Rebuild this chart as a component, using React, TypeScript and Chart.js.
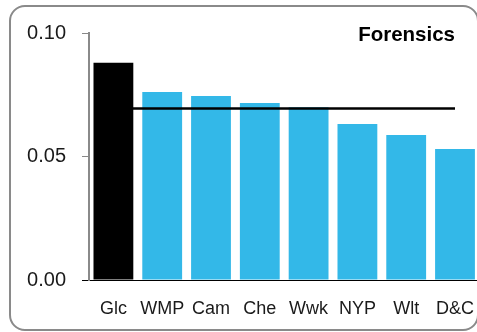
import React, { useEffect, useRef } from "react";
import { Chart, registerables } from "chart.js";

Chart.register(...registerables);

const categories = ["Glc", "WMP", "Cam", "Che", "Wwk", "NYP", "Wlt", "D&C"];
const values = [0.088, 0.0761, 0.0745, 0.0717, 0.0699, 0.0632, 0.0587, 0.053];
const averageValue = 0.0694;
const averageLine = categories.map(() => averageValue);
const yTicks = [0, 0.05, 0.1];
const title = "Forensics";

const BLUE = "#33b8e8";
const FONT = "'Liberation Sans', Arial, sans-serif";

export default function App() {
  const ref = useRef<HTMLCanvasElement | null>(null);

  useEffect(() => {
    if (!ref.current) return;
    const chart = new Chart(ref.current, {
      type: "bar",
      data: {
        labels: categories,
        datasets: [
          {
            type: "line",
            data: averageLine,
            borderColor: "#000",
            borderWidth: 2.5,
            pointRadius: 0,
            order: 0,
          },
          {
            type: "bar",
            data: values,
            backgroundColor: values.map((_, i) => (i === 0 ? "#000" : BLUE)),
            barPercentage: 0.816,
            categoryPercentage: 1,
            order: 1,
          },
        ],
      },
      options: {
        responsive: false,
        animation: false,
        devicePixelRatio: 1,
        layout: { padding: { top: 33, left: 0, right: 0, bottom: 0 } },
        plugins: {
          legend: { display: false },
          tooltip: { enabled: false },
          title: { display: false },
        },
        scales: {
          x: {
            offset: true,
            grid: { display: false, drawTicks: false },
            border: { display: true, color: "#000", width: 1 },
            ticks: {
              color: "#1a1a1a",
              font: { family: FONT, size: 18 },
              padding: 18,
              maxRotation: 0,
              autoSkip: false,
            },
            afterFit: (s: any) => {
              s.height = 52;
            },
          },
          y: {
            min: 0,
            max: 0.1,
            afterBuildTicks: (s: any) => {
              s.ticks = yTicks.map((v) => ({ value: v }));
            },
            grid: {
              drawOnChartArea: false,
              drawTicks: true,
              tickLength: 7,
              color: (ctx: any) => (ctx.tick && ctx.tick.value === 0 ? "#000" : "#888"),
              lineWidth: 1,
            },
            border: { display: true, color: "#8a8a8a", width: 2 },
            ticks: {
              color: "#1a1a1a",
              font: { family: FONT, size: 20 },
              padding: 16,
              callback: (v: any) => Number(v).toFixed(2),
            },
            afterFit: (s: any) => {
              s.width = 89;
            },
          },
        },
      },
    });
    return () => chart.destroy();
  }, []);

  return (
    <div
      style={{
        position: "fixed",
        left: 0,
        top: 0,
        width: 477,
        height: 332,
        overflow: "hidden",
        background: "#fff",
      }}
    >
      <div
        style={{
          position: "absolute",
          left: 9,
          top: 5,
          width: 470,
          height: 326,
          boxSizing: "border-box",
          border: "2px solid #8a8a8a",
          borderRadius: 16,
        }}
      />
      <canvas
        ref={ref}
        width={492}
        height={332}
        style={{ position: "absolute", left: 0, top: 0, display: "block" }}
      />
      <div
        style={{
          position: "absolute",
          right: 477 - 455,
          top: 22,
          fontFamily: FONT,
          fontWeight: "bold",
          fontSize: 20.5,
          lineHeight: "24px",
          color: "#000",
          whiteSpace: "nowrap",
        }}
      >
        {title}
      </div>
    </div>
  );
}
